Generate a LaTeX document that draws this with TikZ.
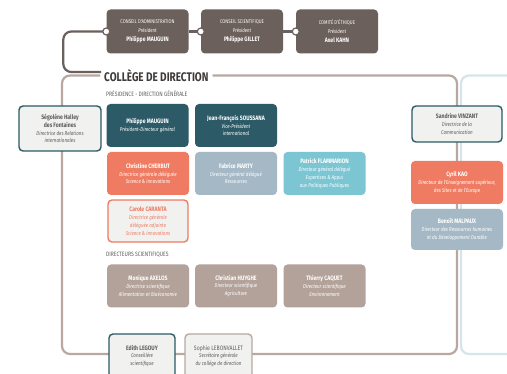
\documentclass[tikz,border=0pt]{standalone}
\usepackage{fontspec}
\newfontfamily\cond{Fira Sans}[FakeStretch=0.8]
\usetikzlibrary{calc}
\def\nm#1{{\fontsize{6.4}{7.8}\selectfont\upshape\bfseries #1}}

\definecolor{topbrown}{HTML}{6B605B}
\definecolor{framebrown}{HTML}{B9A8A0}
\definecolor{boxbrown}{HTML}{B3A29A}
\definecolor{inrateal}{HTML}{2C5A66}
\definecolor{coral}{HTML}{EF7C62}
\definecolor{greyblue}{HTML}{A4B9C5}
\definecolor{lightteal}{HTML}{7CC6D3}
\definecolor{paper}{HTML}{F1F1F0}
\definecolor{frameblue}{HTML}{D6E4EB}
\definecolor{txtgray}{HTML}{5E5E5E}
\definecolor{titlegray}{HTML}{3E3A38}

\tikzset{
	box/.style={rounded corners=4pt, minimum width=82pt, minimum height=43pt, inner sep=1pt, align=center, text=white, font=\cond\fontsize{5.6}{7.8}\selectfont\itshape},
	topbox/.style={box, fill=topbrown, minimum height=44pt, font=\cond\fontsize{5.4}{9}\selectfont},
	fillbox/.style={box, fill=#1},
	linebox/.style={box, fill=paper, draw=#1, line width=1.4pt, text=txtgray},
	knob/.style={circle, fill=white, draw=topbrown, line width=1.2pt, minimum size=7pt, inner sep=0pt},
	link/.style={draw=topbrown, line width=2.2pt},
	frame/.style={line width=2.2pt, rounded corners=8pt},
	sect/.style={anchor=west, inner sep=0pt, text=txtgray, font=\cond\fontsize{6.3}{7}\selectfont},
}

\begin{document}
\begin{tikzpicture}[x=1pt, y=-1pt]
		%%%%% START %%%%%
		\useasboundingbox[fill=white] (0,0) rectangle (507,374);
		
		% title and frames
		\node[anchor=west, inner sep=4pt, text=titlegray, font=\cond\bfseries\fontsize{12.5}{13}\selectfont] (college) at (100,75.5) {COLLÈGE DE DIRECTION};
		\draw[frame, framebrown] (college.east) -- (457,75.5) -- (457,354) -- (62,354) -- (62,75.5) -- (college.west);
		\draw[frame, frameblue] (515,75.5) -- (461,75.5) -- (461,354) -- (515,354);
		
		% top boards
		\node[topbox] (ca) at (147.5,31.5) {CONSEIL D'ADMINISTRATION\\\textit{Président}\\\nm{Philippe MAUGUIN}};
		\node[topbox] (cs) at (242,31.5) {CONSEIL SCIENTIFIQUE\\\textit{Président}\\\nm{Philippe GILLET}};
		\node[topbox] (ce) at (337,31.5) {COMITÉ D'ÉTHIQUE\\\textit{Président}\\\nm{Axel KAHN}};
		
		\coordinate (brk) at (101,72);
		\draw[link, rounded corners=8pt] (ca.west) -- ++(-43,0) |- (brk);
		\draw[link] (ca.east) -- (cs.west);
		\draw[link] (cs.east) -- (ce.west);
		\node[knob] (k1) at (ca.west) {};
		\node[knob] (k2) at (cs.west) {};
		\node[knob] (k3) at (ce.west) {};
		
		% presidence
		\node[sect] (pres) at (106,93.5) {PRÉSIDENCE - DIRECTION GÉNÉRALE};
		\node[fillbox=inrateal] (mauguin) at (147.5,125.5) {\nm{Philippe MAUGUIN}\\Président-Directeur général};
		\node[fillbox=inrateal] (soussana) at (236,125.5) {\nm{Jean-François SOUSSANA}\\Vice-Président\\international};
		
		\node[fillbox=coral] (cherbut) at (148,173.5) {\nm{Christine CHERBUT}\\Directrice générale déléguée\\Science \& innovations};
		\node[fillbox=greyblue] (marty) at (236,173.5) {\nm{Fabrice MARTY}\\Directeur général délégué\\Ressources};
		\node[fillbox=lightteal] (flammarion) at (324.5,173.5) {\nm{Patrick FLAMMARION}\\Directeur général délégué\\Expertises \& Appui\\aux Politiques Publiques};
		\node[linebox=coral, text=coral, minimum width=80pt, minimum height=42pt] (caranta) at (148,221) {\nm{Carole CARANTA}\\Directrice générale\\déléguée adjointe\\Science \& innovations};
		
		% directeurs scientifiques
		\node[sect] (dirsci) at (106,255) {DIRECTEURS SCIENTIFIQUES};
		\node[fillbox=boxbrown] (axelos) at (148,286) {\nm{Monique AXELOS}\\Directrice scientifique\\Alimentation et Bioéconomie};
		\node[fillbox=boxbrown] (huyghe) at (236,286) {\nm{Christian HUYGHE}\\Directeur scientifique\\Agriculture};
		\node[fillbox=boxbrown] (caquet) at (324.5,286) {\nm{Thierry CAQUET}\\Directeur scientifique\\Environnement};
		
		% left side
		\node[linebox=inrateal, minimum width=82pt, minimum height=45pt] (halley) at (60,128.5) {\nm{Ségolène Halley}\\\nm{des Fontaines}\\Directrice des Relations\\internationales};
		
		% right side
		\node[linebox=inrateal, minimum width=90pt, minimum height=36pt] (vinzant) at (457,124) {\nm{Sandrine VINZANT}\\Directrice de la\\Communication};
		\node[fillbox=coral, minimum width=92pt] (kao) at (457,182.5) {\nm{Cyril KAO}\\Directeur de l'Enseignement supérieur,\\des Sites et de l'Europe};
		\node[fillbox=greyblue, minimum width=92pt, minimum height=41pt] (malpaux) at (457,229.5) {\nm{Benoît MALPAUX}\\Directeur des Ressources humaines\\et du Développement Durable};
		
		% bottom
		\node[linebox=inrateal, minimum width=66pt, minimum height=44pt] (legouy) at (142,356) {\nm{Edith LEGOUY}\\Conseillère\\scientifique};
		\node[linebox=framebrown, minimum width=67pt, minimum height=44pt] (lebonvallet) at (218.5,356) {{\fontsize{6.4}{7.8}\selectfont\upshape Sophie LEBONVALLET}\\Secrétaire générale\\du collège de direction};
		
		%%%%% END %%%%%
	\end{tikzpicture}
\end{document}
